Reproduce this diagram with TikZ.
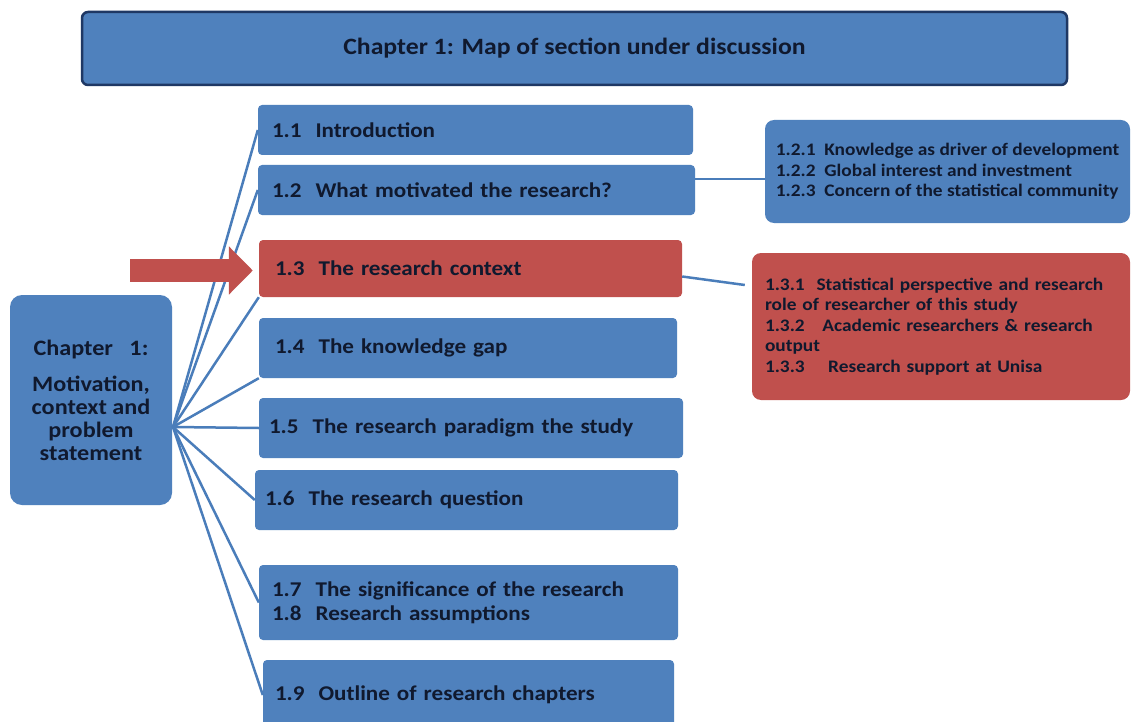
\documentclass[tikz,border=0pt]{standalone}
\usepackage{fontspec}
\setmainfont{Carlito}[FakeStretch=1.1]
\usetikzlibrary{arrows.meta,positioning}
\definecolor{sblue}{HTML}{4F81BD}
\definecolor{sred}{HTML}{C0504D}
\definecolor{navy}{HTML}{1F3864}
\definecolor{ink}{HTML}{10192E}
\definecolor{wirec}{HTML}{4A7DBA}

\begin{document}
\begin{tikzpicture}[x=1pt,y=-1pt,text=ink,item/.style={rounded corners=4pt,fill=sblue,align=left,font=\bfseries\fontsize{21}{24}\selectfont},hot/.style={item,fill=sred},sub/.style={rounded corners=9pt,fill=sblue,align=left,font=\bfseries\fontsize{17.6}{20.5}\selectfont},wire/.style={wirec,line width=2.5pt}]
 \fill[white] (0,0) rectangle (1134,722);
 \node[rounded corners=6pt,fill=sblue,draw=navy,line width=2.5pt,minimum width=985pt,minimum height=73pt,font=\bfseries\fontsize{23.4}{26}\selectfont] (title) at (574.5,48.5) {Chapter 1: Map of section under discussion};
 \node[rounded corners=12pt,fill=sblue,minimum width=162pt,minimum height=210pt,align=center,font=\bfseries\fontsize{22}{23}\selectfont] (chap) at (91,400) {Chapter\ \ \ 1:\\[13pt]Motivation,\\context and\\problem\\statement};
 \node[item,minimum width=435pt,minimum height=50pt,text width=407pt] (s11) at (475.5,130) {1.1\ \ Introduction};
 \node[item,minimum width=437pt,minimum height=50pt,text width=409pt] (s12) at (476.5,190) {1.2\ \ What motivated the research?};
 \node[hot,minimum width=423pt,minimum height=57pt,text width=391pt] (s13) at (470.5,268.5) {1.3\ \ The research context};
 \node[item,minimum width=418pt,minimum height=60pt,text width=386pt] (s14) at (468,348) {1.4\ \ The knowledge gap};
 \node[item,minimum width=424pt,minimum height=60pt,text width=404pt] (s15) at (471,428) {1.5\ \ The research paradigm the study};
 \node[item,minimum width=423pt,minimum height=60pt,text width=403pt] (s16) at (466.5,500) {1.6\ \ The research question};
 \node[item,minimum width=419pt,minimum height=75pt,text width=393pt] (s17) at (468.5,602.5) {1.7\ \ The significance of the research\\1.8\ \ Research assumptions};
 \node[item,overlay,minimum width=411pt,minimum height=70pt,text width=387pt] (s19) at (468.5,695) {1.9\ \ Outline of research chapters};
 \node[sub,minimum width=365pt,minimum height=103pt] (k12) at (947.5,171.5) {1.2.1\ \ Knowledge as driver of development\\1.2.2\ \ Global interest and investment\\1.2.3\ \ Concern of the statistical community};
 \node[sub,fill=sred,minimum width=378pt,minimum height=147pt,text width=352pt] (k13) at (941,326.5) {1.3.1\ \ Statistical perspective and research\\role of researcher of this study\\1.3.2\ \ \ Academic researchers \& research\\output\\1.3.3\ \ \ \ Research support at Unisa};
 \coordinate (hub) at (173,427);
 \coordinate (tail) at (130,270.5);
 \foreach \t/\a in {s11/west,s12/west,s13/south west,s14/south west,s15/west,s16/west,s17/west,s19/west} \draw[wire] (hub)--(\t.\a);
 \draw[wire] ([yshift=11pt]s12.east)--([yshift=11pt]s12.east-|k12.west);
 \draw[wire] ([yshift=-8pt]s13.east)--([xshift=-7pt,yshift=41.5pt]k13.west);
 \draw[sred,line width=23pt,-{Triangle[length=24pt,width=47pt]}] (tail)--([xshift=-6pt,yshift=-2pt]s13.west);
\end{tikzpicture}
\end{document}
